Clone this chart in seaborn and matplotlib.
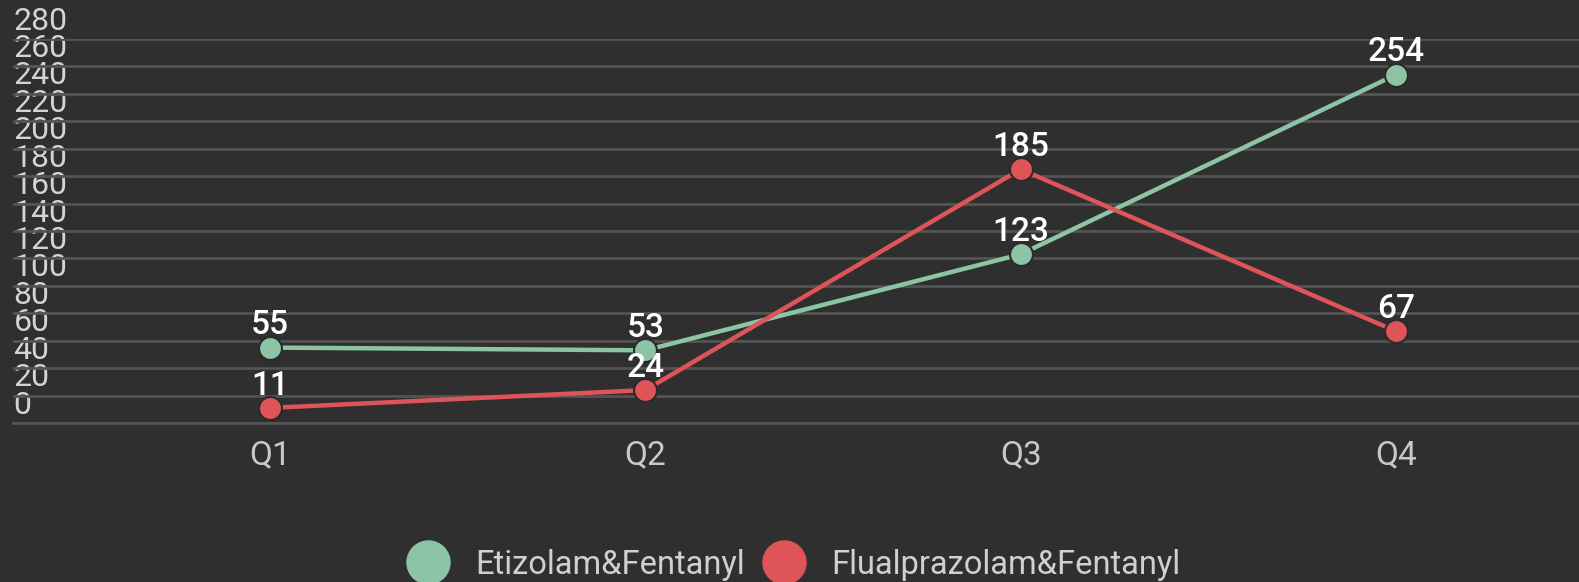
import pandas as pd
import matplotlib
matplotlib.use("Agg")
import matplotlib.pyplot as plt
import matplotlib.transforms as mtransforms
from matplotlib.lines import Line2D
import seaborn as sns

# -----------------------------
# Data
# -----------------------------
quarters = ["Q1", "Q2", "Q3", "Q4"]
etizolam = [55, 53, 123, 254]
flualprazolam = [11, 24, 185, 67]
series_names = ["Etizolam&Fentanyl", "Flualprazolam&Fentanyl"]
y_ticks = list(range(0, 281, 20))

df = pd.DataFrame({
    "quarter": quarters * 2,
    "value": etizolam + flualprazolam,
    "series": [series_names[0]] * 4 + [series_names[1]] * 4,
})

# -----------------------------
# Style
# -----------------------------
bg = "#2f2f2f"
grid_col = "#545454"
green = "#8cc4a5"
red = "#de5458"

sns.set_style("dark")
plt.rcParams["font.family"] = ["Roboto", "DejaVu Sans"]

fig = plt.figure(figsize=(15.79, 5.82), dpi=100, facecolor=bg)
ax = fig.add_axes([13 / 1579, 1 - 423 / 582, 1 - 13 / 1579, (423 - 39) / 582])
ax.set_facecolor(bg)

# -----------------------------
# Lines
# -----------------------------
sns.lineplot(
    data=df, x="quarter", y="value", hue="series",
    palette=[green, red], marker="o", markersize=16.5,
    linewidth=3.2, markeredgecolor="#2a2a2a", markeredgewidth=1.5,
    legend=False, ax=ax, zorder=3,
)

for name, vals in zip(series_names, [etizolam, flualprazolam]):
    for i, v in enumerate(vals):
        ax.annotate(str(v), (i, v), xytext=(0, 9.5), textcoords="offset points",
                    ha="center", va="baseline", color="white", fontsize=24,
                    fontweight="medium", zorder=5)

# -----------------------------
# Axes
# -----------------------------
ax.set_xlim(-0.685, 3.488)
ax.set_ylim(0, 280)
ax.set_yticks(y_ticks)
ax.set_yticklabels([str(t) for t in y_ticks])
ax.grid(axis="y", color=grid_col, linewidth=2)
ax.grid(axis="x", visible=False)
ax.set_axisbelow(True)
for side in ["top", "right", "left"]:
    ax.spines[side].set_visible(False)
ax.spines["bottom"].set_color(grid_col)
ax.spines["bottom"].set_linewidth(2)
ax.set_xlabel("")
ax.set_ylabel("")

ax.tick_params(axis="x", length=0, pad=12, labelsize=24, labelcolor="#c8c8c8")
ax.tick_params(axis="y", length=0, pad=0, labelsize=23, labelcolor="#d4d4d4")

shift = mtransforms.ScaledTranslation(0.5 / 100, 21 / 100, fig.dpi_scale_trans)
for lab in ax.get_yticklabels():
    lab.set_horizontalalignment("left")
    lab.set_verticalalignment("center_baseline")
    lab.set_transform(lab.get_transform() + shift)

# -----------------------------
# Legend
# -----------------------------
handles = [
    Line2D([], [], linestyle="none", marker="o", markersize=31,
           markerfacecolor=c, markeredgecolor=c)
    for c in [green, red]
]
leg = fig.legend(handles, series_names, loc="center", bbox_to_anchor=(0.503, 0.03),
                 ncol=2, frameon=False, fontsize=23.5, labelcolor="#d0d0d0",
                 handletextpad=0.85, columnspacing=0.6, handlelength=1.2)

fig.savefig("out.png", dpi=100, facecolor=bg)
